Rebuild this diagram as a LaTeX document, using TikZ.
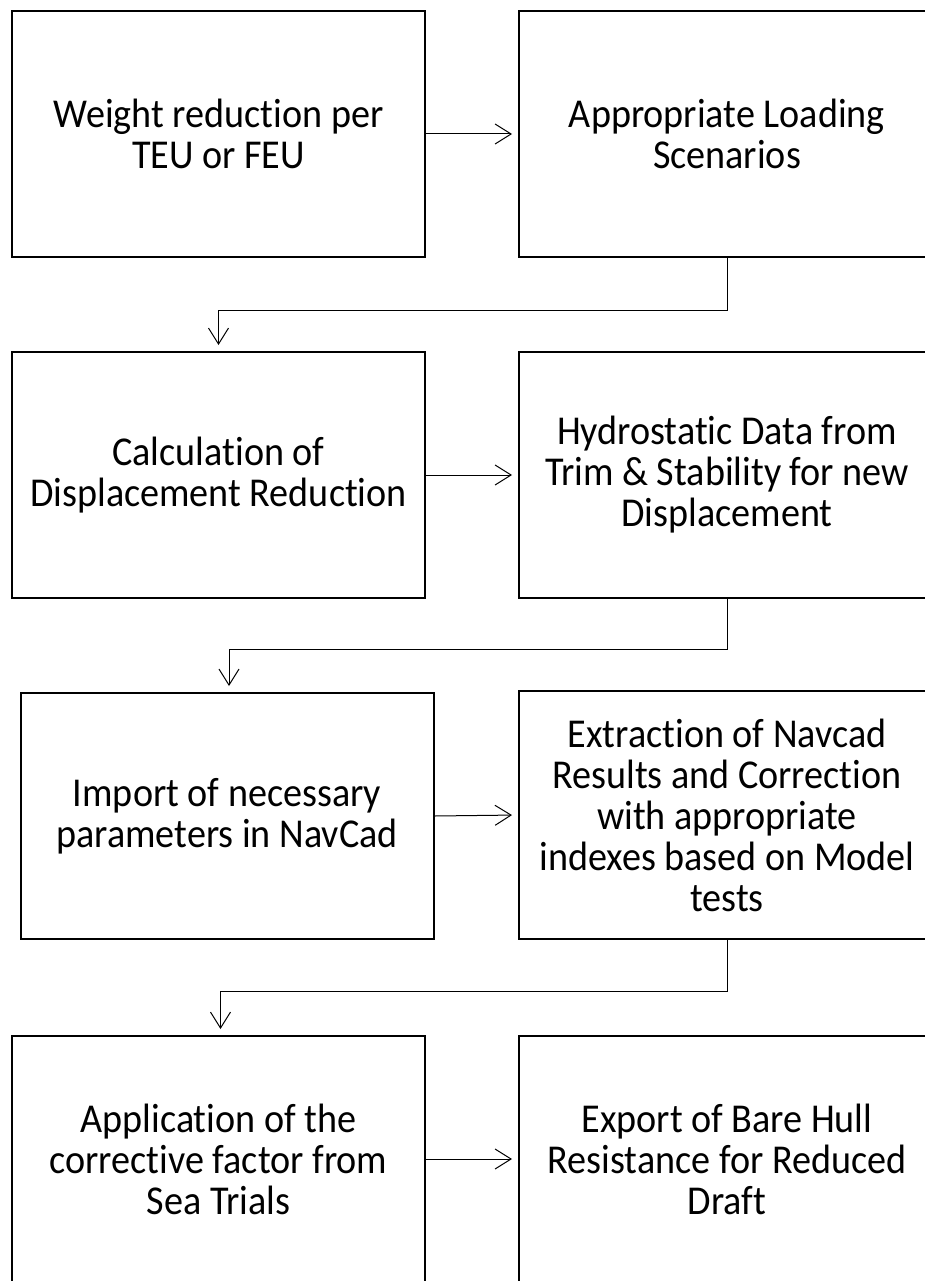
\documentclass[tikz,border=0pt]{standalone}
\usepackage{fontspec}
\setmainfont{Carlito}[Ligatures=NoCommon,FakeStretch=0.93]
\usetikzlibrary{positioning,arrows.meta,calc}

\tikzset{
  stepbox/.style={draw=black,line width=2pt,inner sep=0pt,align=center,
    font=\fontsize{41}{41}\selectfont},
  flow/.style={-{Straight Barb[length=16pt,width=20pt]},line width=1pt,shorten >=6pt}
}

\begin{document}
\begin{tikzpicture}[x=1pt,y=-1pt]
  \clip (0,0) rectangle (925,1281);
  % left column
  \node[stepbox,minimum width=413pt,minimum height=246pt] (weight) at (218.5,134)
    {Weight reduction per\\TEU or FEU};
  \node[stepbox,minimum width=413pt,minimum height=246pt] (displ) at (218.5,475)
    {Calculation of\\Displacement Reduction};
  \node[stepbox,minimum width=413pt,minimum height=246pt] (navcad) at (227,816)
    {Import of necessary\\parameters in NavCad};
  \node[stepbox,minimum width=413pt,minimum height=246pt] (seatrial) at (218.5,1159)
    {Application of the\\corrective factor from\\Sea Trials};
  % right column
  \node[stepbox,minimum width=416pt,minimum height=246pt] (loading) at (727,134)
    {Appropriate Loading\\Scenarios};
  \node[stepbox,minimum width=416pt,minimum height=246pt] (hydro) at (727,475)
    {Hydrostatic Data from\\Trim \& Stability for new\\Displacement};
  \node[stepbox,minimum width=416pt,minimum height=248pt] (extract) at (727,815)
    {Extraction of Navcad\\Results and Correction\\with appropriate\\indexes based on Model\\tests};
  \node[stepbox,minimum width=416pt,minimum height=246pt] (export) at (727,1159)
    {Export of Bare Hull\\Resistance for Reduced\\Draft};
  % arrows across
  \foreach \a/\b in {weight/loading,displ/hydro,navcad/extract,seatrial/export}
    \draw[flow] (\a.east) -- (\b.west);
  % arrows down to the next row
  \draw[flow] (loading.south) -- ++(0,52) -| (displ.north);
  \draw[flow] (hydro.south) -- ++(0,50) -| ($(navcad.north)+(2,0)$);
  \draw[flow] (extract.south) -- ++(0,51) -| ($(seatrial.north)+(2,0)$);
\end{tikzpicture}
\end{document}
